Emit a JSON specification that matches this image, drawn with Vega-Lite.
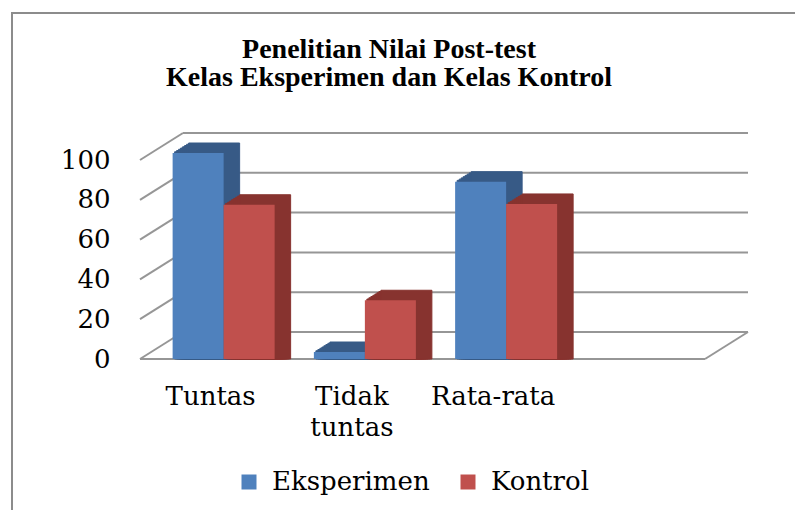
{
  "$schema": "https://vega.github.io/schema/vega-lite/v6.json",
  "width": 790,
  "height": 500,
  "padding": {"left": 12, "top": 13, "right": 0, "bottom": 0},
  "autosize": {"type": "none"},
  "background": "white",
  "title": {
    "text": ["Penelitian Nilai Post-test", "Kelas Eksperimen dan  Kelas Kontrol"],
    "font": "Liberation Serif",
    "fontSize": 28,
    "fontWeight": "bold",
    "lineHeight": 28,
    "color": "black",
    "anchor": "middle",
    "orient": "top",
    "offset": -79,
    "dx": -18
  },
  "datasets": {
    "bars": [
      {"cat": "Tuntas", "s": "Eksperimen", "value": 100},
      {"cat": "Tuntas", "s": "Kontrol", "value": 74},
      {"cat": "Tidak tuntas", "s": "Eksperimen", "value": 0},
      {"cat": "Tidak tuntas", "s": "Kontrol", "value": 26},
      {"cat": "Rata-rata", "s": "Eksperimen", "value": 85.6},
      {"cat": "Rata-rata", "s": "Kontrol", "value": 74.4}
    ],
    "grid": [{"v": 0}, {"v": 20}, {"v": 40}, {"v": 60}, {"v": 80}, {"v": 100}]
  },
  "layer": [
    {
      "data": {"name": "bars"},
      "mark": {"type": "bar", "opacity": 0},
      "encoding": {
        "x": {"field": "cat", "type": "nominal", "title": null, "scale": {"type": "band", "domain": ["Tuntas", "Tidak tuntas", "Rata-rata", " "], "range": [128, 693], "paddingInner": 0, "paddingOuter": 0}},
        "y": {"field": "value", "type": "quantitative", "title": null, "stack": null, "scale": {"domain": [0, 100], "range": [346, 147], "nice": false, "zero": true}}
      }
    },
    {
      "data": {"name": "grid"},
      "transform": [{"filter": "datum.v == 0"}],
      "mark": {"type": "rule", "color": "#969696", "strokeWidth": 2},
      "encoding": {
        "x": {"datum": "Tuntas", "type": "nominal", "bandPosition": 0, "title": null},
        "x2": {"datum": " ", "bandPosition": 1},
        "y": {"field": "v", "type": "quantitative", "title": null}
      }
    },
    {
      "data": {"name": "grid"},
      "mark": {"type": "rule", "color": "#969696", "strokeWidth": 2, "xOffset": 43, "x2Offset": 43, "yOffset": -27},
      "encoding": {
        "x": {"datum": "Tuntas", "type": "nominal", "bandPosition": 0, "title": null},
        "x2": {"datum": " ", "bandPosition": 1},
        "y": {"field": "v", "type": "quantitative", "title": null}
      }
    },
    {
      "data": {"name": "grid"},
      "mark": {"type": "rule", "color": "#969696", "strokeWidth": 2, "x2Offset": 43, "y2Offset": -27},
      "encoding": {
        "x": {"datum": "Tuntas", "type": "nominal", "bandPosition": 0, "title": null},
        "x2": {"datum": "Tuntas", "bandPosition": 0},
        "y": {"field": "v", "type": "quantitative", "title": null},
        "y2": {"field": "v"}
      }
    },
    {
      "data": {"name": "grid"},
      "transform": [{"filter": "datum.v == 0"}],
      "mark": {"type": "rule", "color": "#969696", "strokeWidth": 2, "x2Offset": 43, "y2Offset": -27},
      "encoding": {
        "x": {"datum": " ", "type": "nominal", "bandPosition": 1, "title": null},
        "x2": {"datum": " ", "bandPosition": 1},
        "y": {"field": "v", "type": "quantitative", "title": null},
        "y2": {"field": "v"}
      }
    },
    {"data": {"name": "bars"}, "transform": [{"filter": "datum.s == 'Eksperimen'"}], "mark": {"type": "bar", "width": 51, "xOffset": -10.5, "yOffset": -8.25, "y2Offset": -8.25, "color": "#375a86", "stroke": "#375a86", "strokeWidth": 1}, "encoding": {"x": {"field": "cat", "type": "nominal", "title": null}, "y": {"field": "value", "type": "quantitative", "stack": null, "title": null}}},
    {"data": {"name": "bars"}, "transform": [{"filter": "datum.s == 'Eksperimen'"}], "mark": {"type": "bar", "width": 51, "xOffset": -8.5, "yOffset": -9.5, "y2Offset": -9.5, "color": "#375a86", "stroke": "#375a86", "strokeWidth": 1}, "encoding": {"x": {"field": "cat", "type": "nominal", "title": null}, "y": {"field": "value", "type": "quantitative", "stack": null, "title": null}}},
    {"data": {"name": "bars"}, "transform": [{"filter": "datum.s == 'Eksperimen'"}], "mark": {"type": "bar", "width": 51, "xOffset": -6.5, "yOffset": -10.75, "y2Offset": -10.75, "color": "#375a86", "stroke": "#375a86", "strokeWidth": 1}, "encoding": {"x": {"field": "cat", "type": "nominal", "title": null}, "y": {"field": "value", "type": "quantitative", "stack": null, "title": null}}},
    {"data": {"name": "bars"}, "transform": [{"filter": "datum.s == 'Eksperimen'"}], "mark": {"type": "bar", "width": 51, "xOffset": -4.5, "yOffset": -12, "y2Offset": -12, "color": "#375a86", "stroke": "#375a86", "strokeWidth": 1}, "encoding": {"x": {"field": "cat", "type": "nominal", "title": null}, "y": {"field": "value", "type": "quantitative", "stack": null, "title": null}}},
    {"data": {"name": "bars"}, "transform": [{"filter": "datum.s == 'Eksperimen'"}], "mark": {"type": "bar", "width": 51, "xOffset": -2.5, "yOffset": -13.25, "y2Offset": -13.25, "color": "#375a86", "stroke": "#375a86", "strokeWidth": 1}, "encoding": {"x": {"field": "cat", "type": "nominal", "title": null}, "y": {"field": "value", "type": "quantitative", "stack": null, "title": null}}},
    {"data": {"name": "bars"}, "transform": [{"filter": "datum.s == 'Eksperimen'"}], "mark": {"type": "bar", "width": 51, "xOffset": -0.5, "yOffset": -14.5, "y2Offset": -14.5, "color": "#375a86", "stroke": "#375a86", "strokeWidth": 1}, "encoding": {"x": {"field": "cat", "type": "nominal", "title": null}, "y": {"field": "value", "type": "quantitative", "stack": null, "title": null}}},
    {"data": {"name": "bars"}, "transform": [{"filter": "datum.s == 'Eksperimen'"}], "mark": {"type": "bar", "width": 51, "xOffset": 1.5, "yOffset": -15.75, "y2Offset": -15.75, "color": "#375a86", "stroke": "#375a86", "strokeWidth": 1}, "encoding": {"x": {"field": "cat", "type": "nominal", "title": null}, "y": {"field": "value", "type": "quantitative", "stack": null, "title": null}}},
    {"data": {"name": "bars"}, "transform": [{"filter": "datum.s == 'Eksperimen'"}], "mark": {"type": "bar", "width": 51, "xOffset": 3.5, "yOffset": -17, "y2Offset": -17, "color": "#375a86", "stroke": "#375a86", "strokeWidth": 1}, "encoding": {"x": {"field": "cat", "type": "nominal", "title": null}, "y": {"field": "value", "type": "quantitative", "stack": null, "title": null}}},
    {"data": {"name": "bars"}, "transform": [{"filter": "datum.s == 'Kontrol'"}], "mark": {"type": "bar", "width": 51, "xOffset": 40.5, "yOffset": -8.25, "y2Offset": -8.25, "color": "#87332f", "stroke": "#87332f", "strokeWidth": 1}, "encoding": {"x": {"field": "cat", "type": "nominal", "title": null}, "y": {"field": "value", "type": "quantitative", "stack": null, "title": null}}},
    {"data": {"name": "bars"}, "transform": [{"filter": "datum.s == 'Kontrol'"}], "mark": {"type": "bar", "width": 51, "xOffset": 42.5, "yOffset": -9.5, "y2Offset": -9.5, "color": "#87332f", "stroke": "#87332f", "strokeWidth": 1}, "encoding": {"x": {"field": "cat", "type": "nominal", "title": null}, "y": {"field": "value", "type": "quantitative", "stack": null, "title": null}}},
    {"data": {"name": "bars"}, "transform": [{"filter": "datum.s == 'Kontrol'"}], "mark": {"type": "bar", "width": 51, "xOffset": 44.5, "yOffset": -10.75, "y2Offset": -10.75, "color": "#87332f", "stroke": "#87332f", "strokeWidth": 1}, "encoding": {"x": {"field": "cat", "type": "nominal", "title": null}, "y": {"field": "value", "type": "quantitative", "stack": null, "title": null}}},
    {"data": {"name": "bars"}, "transform": [{"filter": "datum.s == 'Kontrol'"}], "mark": {"type": "bar", "width": 51, "xOffset": 46.5, "yOffset": -12, "y2Offset": -12, "color": "#87332f", "stroke": "#87332f", "strokeWidth": 1}, "encoding": {"x": {"field": "cat", "type": "nominal", "title": null}, "y": {"field": "value", "type": "quantitative", "stack": null, "title": null}}},
    {"data": {"name": "bars"}, "transform": [{"filter": "datum.s == 'Kontrol'"}], "mark": {"type": "bar", "width": 51, "xOffset": 48.5, "yOffset": -13.25, "y2Offset": -13.25, "color": "#87332f", "stroke": "#87332f", "strokeWidth": 1}, "encoding": {"x": {"field": "cat", "type": "nominal", "title": null}, "y": {"field": "value", "type": "quantitative", "stack": null, "title": null}}},
    {"data": {"name": "bars"}, "transform": [{"filter": "datum.s == 'Kontrol'"}], "mark": {"type": "bar", "width": 51, "xOffset": 50.5, "yOffset": -14.5, "y2Offset": -14.5, "color": "#87332f", "stroke": "#87332f", "strokeWidth": 1}, "encoding": {"x": {"field": "cat", "type": "nominal", "title": null}, "y": {"field": "value", "type": "quantitative", "stack": null, "title": null}}},
    {"data": {"name": "bars"}, "transform": [{"filter": "datum.s == 'Kontrol'"}], "mark": {"type": "bar", "width": 51, "xOffset": 52.5, "yOffset": -15.75, "y2Offset": -15.75, "color": "#87332f", "stroke": "#87332f", "strokeWidth": 1}, "encoding": {"x": {"field": "cat", "type": "nominal", "title": null}, "y": {"field": "value", "type": "quantitative", "stack": null, "title": null}}},
    {"data": {"name": "bars"}, "transform": [{"filter": "datum.s == 'Kontrol'"}], "mark": {"type": "bar", "width": 51, "xOffset": 54.5, "yOffset": -17, "y2Offset": -17, "color": "#87332f", "stroke": "#87332f", "strokeWidth": 1}, "encoding": {"x": {"field": "cat", "type": "nominal", "title": null}, "y": {"field": "value", "type": "quantitative", "stack": null, "title": null}}},
    {
      "data": {"name": "bars"},
      "transform": [{"filter": "datum.s == 'Eksperimen'"}],
      "mark": {"type": "bar", "width": 51, "xOffset": -12.5, "yOffset": -7, "y2Offset": -7},
      "encoding": {
        "x": {"field": "cat", "type": "nominal", "title": null},
        "y": {"field": "value", "type": "quantitative", "stack": null, "title": null},
        "color": {"field": "s", "type": "nominal", "scale": {"domain": ["Eksperimen", "Kontrol"], "range": ["#4f81bd", "#c0504d"]}, "legend": {"title": null, "orient": "none", "legendX": 224, "legendY": 456, "direction": "horizontal", "symbolType": "square", "symbolSize": 225, "symbolStrokeWidth": 0, "labelFont": "DejaVu Serif", "labelFontSize": 26, "labelColor": "black", "labelOffset": 10, "columnPadding": 25, "padding": 0}}
      }
    },
    {
      "data": {"name": "bars"},
      "transform": [{"filter": "datum.s == 'Kontrol'"}],
      "mark": {"type": "bar", "width": 51, "xOffset": 38.5, "yOffset": -7, "y2Offset": -7},
      "encoding": {
        "x": {"field": "cat", "type": "nominal", "title": null},
        "y": {"field": "value", "type": "quantitative", "stack": null, "title": null},
        "color": {"field": "s", "type": "nominal"}
      }
    }
  ],
  "config": {
    "view": {"stroke": "#8c8c8c", "strokeWidth": 2},
    "axisX": {"orient": "bottom", "offset": 0, "labelPadding": -130, "labelAngle": 0, "ticks": false, "domain": false, "grid": false, "labelFont": "DejaVu Serif", "labelFontSize": 26, "labelColor": "black", "labelLineHeight": 31, "labelExpr": "datum.value == 'Tidak tuntas' ? ['Tidak', 'tuntas'] : datum.value"},
    "axisY": {"orient": "left", "offset": 0, "labelPadding": -98, "ticks": false, "domain": false, "grid": false, "values": [0, 20, 40, 60, 80, 100], "labelFont": "DejaVu Serif", "labelFontSize": 26, "labelColor": "black", "labelDy": 6}
  }
}
